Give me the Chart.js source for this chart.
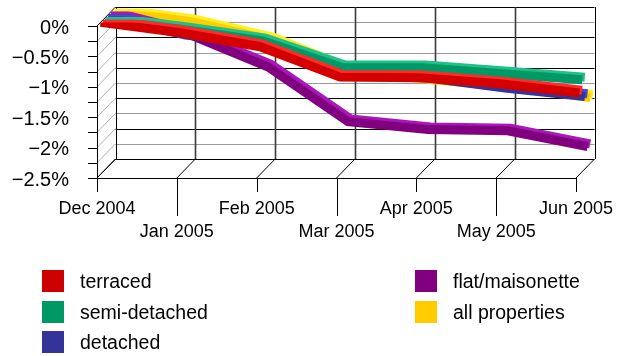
<!DOCTYPE html>
<html>
<head>
<meta charset="utf-8">
<script src="https://cdn.jsdelivr.net/npm/chart.js@4/dist/chart.umd.min.js"></script>
<style>
  html, body { margin: 0; padding: 0; background: #fff; }
  #wrap { position: relative; width: 620px; height: 356px; }
  #chart { position: absolute; left: 0; top: 0; }
  .legend { position: absolute; font-family: "Liberation Sans", Arial, sans-serif; font-size: 19.5px; color: #000; }
  .item { position: absolute; white-space: nowrap; height: 22px; line-height: 22px; }
  .swatch { position: absolute; left: 0; top: 0; width: 22px; height: 22px; }
  .label { position: absolute; left: 38px; top: 0; }
</style>
</head>
<body>
<div id="wrap">
  <canvas id="chart" width="620" height="356"></canvas>
  <div class="legend" id="legend"></div>
</div>
<script>
// Monthly house price change since December 2004, by property type (%)
const months = ['Dec 2004', 'Jan 2005', 'Feb 2005', 'Mar 2005', 'Apr 2005', 'May 2005', 'Jun 2005'];
const terraced     = [0, -0.17, -0.40, -0.90, -0.91, -1.01, -1.16];
const semiDetached = [0, -0.16, -0.35, -0.79, -0.79, -0.89, -0.99];
const detached     = [0, -0.30, -0.45, -0.95, -1.00, -1.17, -1.31];
const flat         = [0, -0.33, -0.87, -1.77, -1.90, -1.92, -2.18];
const allProps     = [0, -0.17, -0.47, -1.00, -1.12, -1.24, -1.42];
const yTicks = [0, -0.5, -1, -1.5, -2, -2.5];

const seriesNames = ['terraced', 'semi-detached', 'detached', 'flat/maisonette', 'all properties'];
const seriesData  = [terraced, semiDetached, detached, flat, allProps];
const frontColors = ['#d40000', '#009966', '#333399', '#800080', '#ffcc00'];
const topColors   = ['#ff2a2a', '#1fc08a', '#4a4ad0', '#a818b8', '#ffee22'];
const legendColors = ['#cc0000', '#009966', '#333399', '#800080', '#ffcc00'];

// Depth of the whole plot box and of each ribbon row
const DEPTH_X = 18.5, DEPTH_Y = -19;
const ROW_START = 3.5, ROW_STEP = 2.7, RIBBON = 2.6;

const datasets = [];
seriesData.forEach((vals, k) => {
  const off = ROW_START + ROW_STEP * k;
  // front face of the ribbon
  datasets.push({
    label: seriesNames[k], data: vals, borderColor: frontColors[k], backgroundColor: frontColors[k],
    borderWidth: 9, pointRadius: 0, tension: 0, borderCapStyle: 'butt', borderJoinStyle: 'miter',
    order: 2 * k, depthOffset: off
  });
  // top face, set slightly further back
  datasets.push({
    label: seriesNames[k] + ' top', data: vals, borderColor: topColors[k], backgroundColor: topColors[k],
    borderWidth: 9, pointRadius: 0, tension: 0, borderCapStyle: 'butt', borderJoinStyle: 'miter',
    order: 2 * k + 1, depthOffset: off + RIBBON
  });
});

// Shift each ribbon into its depth row
const depthPlugin = {
  id: 'depthRows',
  beforeDatasetDraw(chart, args) {
    const off = chart.data.datasets[args.index].depthOffset || 0;
    chart.ctx.save();
    chart.ctx.translate(off, -off * (-DEPTH_Y / DEPTH_X));
  },
  afterDatasetDraw(chart) { chart.ctx.restore(); }
};

// Walls, floor, gridlines and tick marks of the 3D box
const boxPlugin = {
  id: 'box3d',
  beforeDatasetsDraw(chart) {
    const ctx = chart.ctx, xs = chart.scales.x, ys = chart.scales.y;
    const L = chart.chartArea.left, R = chart.chartArea.right;
    const T = ys.getPixelForValue(0), B = ys.getPixelForValue(-2.5);
    const line = (x1, y1, x2, y2, color, w) => {
      ctx.beginPath(); ctx.strokeStyle = color; ctx.lineWidth = w;
      ctx.moveTo(x1, y1); ctx.lineTo(x2, y2); ctx.stroke();
    };
    ctx.save();
    // back wall horizontal lines every 0.25%
    for (let i = 0; i <= 10; i++) {
      const v = -0.25 * i;
      const y = Math.round(ys.getPixelForValue(v) + DEPTH_Y) + 0.5;
      const major = i % 2 === 0;
      line(L + DEPTH_X, y, R + DEPTH_X, y, major ? '#000' : '#9a9a9a', 1);
    }
    // left wall diagonals and front ticks
    for (let i = 0; i <= 10; i++) {
      const v = -0.25 * i;
      const y = ys.getPixelForValue(v);
      const edge = (i === 0 || i === 10);
      line(L, y, L + DEPTH_X, y + DEPTH_Y, edge ? '#000' : '#b0b0b0', 1);
      line(L - 9, Math.round(y) + 0.5, L, Math.round(y) + 0.5, '#000', 1);
    }
    // back wall verticals, floor diagonals, category ticks
    months.forEach((m, i) => {
      const x = xs.getPixelForValue(i);
      const bx = Math.round(x + DEPTH_X) + 0.5;
      const edge = (i === 0 || i === months.length - 1);
      line(bx, T + DEPTH_Y, bx, B + DEPTH_Y, edge ? '#000' : '#3a3a3a', edge ? 1 : 1.6);
      line(x, B, x + DEPTH_X, B + DEPTH_Y, '#000', 1);
      const tx = Math.round(x) + 0.5;
      line(tx, B, tx, B + (i % 2 === 0 ? 14 : 38), '#000', 1);
    });
    // front edges
    line(Math.round(L) + 0.5, T, Math.round(L) + 0.5, B, '#000', 1);
    line(L, Math.round(B) + 0.5, R, Math.round(B) + 0.5, '#000', 1);
    ctx.restore();
  }
};

new Chart(document.getElementById('chart'), {
  type: 'line',
  data: { labels: months, datasets },
  options: {
    responsive: false,
    animation: false,
    events: [],
    layout: { padding: { top: 26, right: 44, bottom: 0, left: 0 } },
    plugins: { legend: { display: false }, tooltip: { enabled: false } },
    scales: {
      x: {
        offset: false,
        grid: { display: false, drawTicks: false },
        border: { display: false },
        afterFit(scale) { scale.height = 178; scale.paddingLeft = 0; scale.paddingRight = 0; },
        ticks: {
          autoSkip: false, maxRotation: 0, minRotation: 0, padding: 19,
          color: '#000',
          font: { family: 'Liberation Sans', size: 18, lineHeight: 1.3 },
          callback(value, index) {
            const t = months[index];
            return index % 2 === 0 ? [t] : ['', t];
          }
        }
      },
      y: {
        min: -2.5, max: 0,
        grid: { display: false, drawTicks: false },
        border: { display: false },
        afterFit(scale) { scale.width = 97; scale.paddingTop = 0; scale.paddingBottom = 0; },
        afterBuildTicks(scale) { scale.ticks = yTicks.map(v => ({ value: v })); },
        ticks: {
          padding: 28, labelOffset: 2, color: '#000',
          font: { family: 'Liberation Sans', size: 20 },
          callback(value) {
            const v = Math.round(value * 10) / 10;
            return (v < 0 ? '\u2212' + Math.abs(v) : String(v)) + '%';
          }
        }
      }
    }
  },
  plugins: [boxPlugin, depthPlugin]
});

// Two-column legend
const legend = document.getElementById('legend');
const positions = [[42, 270], [42, 301], [42, 331], [415, 270], [415, 301]];
seriesNames.forEach((name, k) => {
  const item = document.createElement('div');
  item.className = 'item';
  item.style.left = positions[k][0] + 'px';
  item.style.top = positions[k][1] + 'px';
  item.innerHTML = '<span class="swatch" style="background:' + legendColors[k] + '"></span><span class="label"></span>';
  item.querySelector('.label').textContent = name;
  legend.appendChild(item);
});
</script>
</body>
</html>
